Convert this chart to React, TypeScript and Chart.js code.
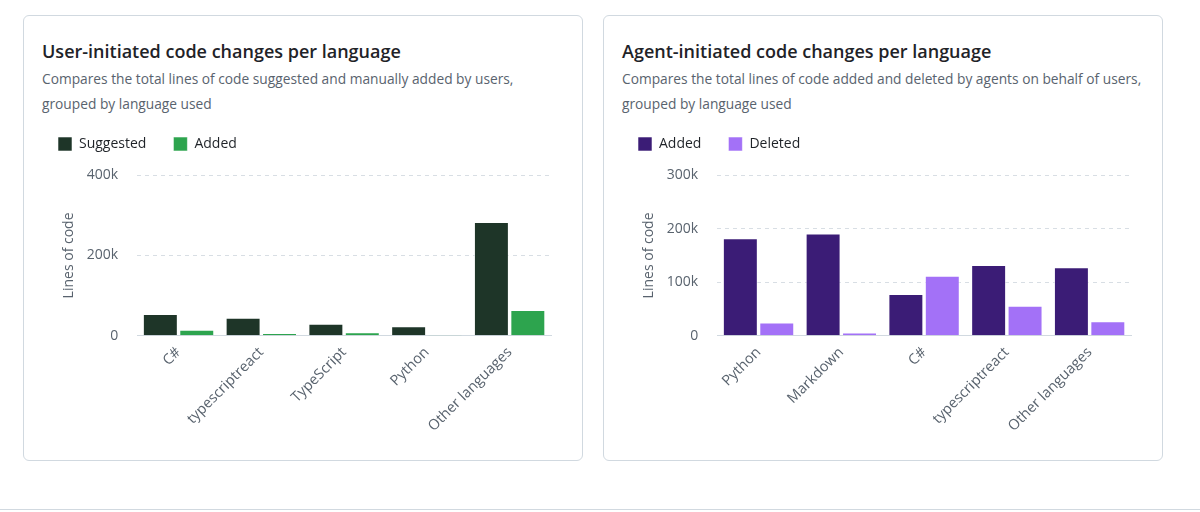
import React, { useEffect, useRef } from "react";
import { Chart, registerables } from "chart.js";

Chart.register(...registerables);

const FONT = "'Open Sans', 'Noto Sans', sans-serif";

// Left chart: user-initiated
const userTitle = "User-initiated code changes per language";
const userSubtitle = "Compares the total lines of code suggested and manually added by users, grouped by language used";
const userCategories = ["C#", "typescriptreact", "TypeScript", "Python", "Other languages"];
const userSuggested = [54000, 45000, 30000, 24000, 283000];
const userAdded = [15000, 7000, 9000, 3000, 64000];
const userTicks = [0, 200000, 400000];

// Right chart: agent-initiated
const agentTitle = "Agent-initiated code changes per language";
const agentSubtitle = "Compares the total lines of code added and deleted by agents on behalf of users, grouped by language used";
const agentCategories = ["Python", "Markdown", "C#", "typescriptreact", "Other languages"];
const agentAdded = [182000, 191000, 78000, 132000, 128000];
const agentDeleted = [25000, 6000, 112000, 56000, 27000];
const agentTicks = [0, 100000, 200000, 300000];

type Series = { label: string; data: number[]; color: string };

const legendHeightPlugin = {
  id: "legendHeight",
  beforeInit(chart: any) {
    const legend = chart.legend;
    if (!legend) return;
    const origFit = legend.fit;
    legend.fit = function () {
      origFit.call(this);
      this.height += 14;
    };
  },
};

function BarChart(props: { categories: string[]; series: Series[]; ticks: number[] }) {
  const ref = useRef<HTMLCanvasElement | null>(null);
  useEffect(() => {
    if (!ref.current) return;
    const { categories, series, ticks } = props;
    const chart = new Chart(ref.current, {
      type: "bar",
      data: {
        labels: categories,
        datasets: series.map((s) => ({
          label: s.label,
          data: s.data,
          backgroundColor: s.color,
          borderColor: "rgba(255,255,255,0.55)",
          borderWidth: 1,
          categoryPercentage: 0.88,
          barPercentage: 0.96,
        })),
      },
      options: {
        animation: false,
        responsive: true,
        maintainAspectRatio: false,
        layout: { padding: { left: 0, right: 2, top: 0, bottom: 0 } },
        plugins: {
          legend: {
            position: "top",
            align: "start",
            labels: {
              boxWidth: 14,
              boxHeight: 14,
              padding: 27,
              color: "#1f2328",
              font: { family: FONT, size: 14 },
            },
          },
          tooltip: { enabled: false },
        },
        scales: {
          x: {
            grid: { display: false },
            border: { display: true, color: "#d1d9e0", width: 1 },
            ticks: {
              color: "#59636e",
              font: { family: FONT, size: 14.5 },
              padding: 0,
              minRotation: 45,
              maxRotation: 45,
              autoSkip: false,
            },
          },
          y: {
            min: ticks[0],
            max: ticks[ticks.length - 1],
            grid: { color: "#d8dee4", drawTicks: false },
            border: { display: false, dash: [4, 4] },
            afterBuildTicks: (axis: any) => {
              axis.ticks = ticks.map((v) => ({ value: v }));
            },
            ticks: {
              color: "#59636e",
              font: { family: FONT, size: 14 },
              padding: 19,
              callback: (v: any) => (Number(v) === 0 ? "0" : Number(v) / 1000 + "k"),
            },
            title: {
              display: true,
              text: "Lines of code",
              color: "#59636e",
              font: { family: FONT, size: 14 },
              padding: { top: 30, bottom: -10 },
            },
          },
        },
      },
      plugins: [legendHeightPlugin],
    });
    return () => chart.destroy();
  }, []);
  return <canvas ref={ref} />;
}

function Card(props: { left: number; title: string; subtitle: string; children: React.ReactNode }) {
  return (
    <div
      style={{
        position: "absolute",
        left: props.left,
        top: 15,
        width: 558,
        height: 444,
        border: "1px solid #d1d9e0",
        borderRadius: 6,
        background: "#ffffff",
        boxSizing: "content-box",
      }}
    >
      <div
        style={{
          position: "absolute",
          left: 18,
          top: 22,
          fontFamily: FONT,
          fontSize: 18,
          fontWeight: 600,
          lineHeight: "26px",
          color: "#1f2328",
          whiteSpace: "nowrap",
        }}
      >
        {props.title}
      </div>
      <div
        style={{
          position: "absolute",
          left: 18,
          top: 50,
          width: 525,
          fontFamily: FONT,
          fontSize: 13.75,
          lineHeight: "25px",
          color: "#59636e",
        }}
      >
        {props.subtitle}
      </div>
      <div style={{ position: "absolute", left: 7, top: 94, width: 522, height: 325 }}>{props.children}</div>
    </div>
  );
}

export default function App() {
  return (
    <div
      style={{
        position: "fixed",
        left: 0,
        top: 0,
        width: 1200,
        height: 512,
        background: "#ffffff",
        overflow: "hidden",
      }}
    >
      <Card left={23} title={userTitle} subtitle={userSubtitle}>
        <BarChart
          categories={userCategories}
          ticks={userTicks}
          series={[
            { label: "Suggested", data: userSuggested, color: "#1e3528" },
            { label: "Added", data: userAdded, color: "#2da44e" },
          ]}
        />
      </Card>
      <Card left={603} title={agentTitle} subtitle={agentSubtitle}>
        <BarChart
          categories={agentCategories}
          ticks={agentTicks}
          series={[
            { label: "Added", data: agentAdded, color: "#3b1c76" },
            { label: "Deleted", data: agentDeleted, color: "#a371f7" },
          ]}
        />
      </Card>
      <div style={{ position: "absolute", left: 0, top: 509, width: 1200, height: 1, background: "#d1d9e0" }} />
    </div>
  );
}
